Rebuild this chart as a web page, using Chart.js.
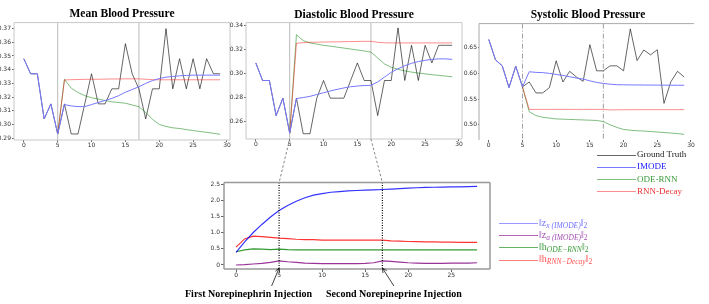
<!DOCTYPE html>
<html>
<head>
<meta charset="utf-8">
<script src="https://cdn.jsdelivr.net/npm/chart.js@4.4.1/dist/chart.umd.min.js"></script>
<style>
    body { margin: 0; width: 709px; height: 304px; background: #fff; position: relative; overflow: hidden; font-family: "Liberation Serif", "Times New Roman", serif; }
    canvas { position: absolute; }
    .title { position: absolute; font-weight: bold; font-size: 11.5px; line-height: 14px; white-space: nowrap; transform: translateX(-50%); }
    .note { position: absolute; font-weight: bold; font-size: 10px; line-height: 12px; white-space: nowrap; }
    .leg-line { position: absolute; height: 1px; width: 39px; }
    .leg-text { position: absolute; font-size: 9px; line-height: 10px; white-space: nowrap; }
    .leg-text.norm { font-size: 10px; }
    .leg-text sub { font-size: 7.5px; vertical-align: -2px; }
    .leg-text i { font-style: italic; }
</style>
</head>
<body>
<canvas id="meanChart"></canvas>
<canvas id="diastolicChart"></canvas>
<canvas id="systolicChart"></canvas>
<canvas id="latentChart"></canvas>
<canvas id="overlay" width="709" height="304" style="left:0;top:0;pointer-events:none;"></canvas>

<div class="title" style="left:122px;top:5.5px;">Mean Blood Pressure</div>
<div class="title" style="left:354px;top:6.5px;">Diastolic Blood Pressure</div>
<div class="title" style="left:588px;top:7px;">Systolic Blood Pressure</div>
<div class="note" style="left:185px;top:288px;">First Norepinephrin Injection</div>
<div class="note" style="left:326px;top:288px;">Second Norepineprine Injection</div>

<script>
const steps = [0, 1, 2, 3, 4, 5, 6, 7, 8, 9, 10, 11, 12, 13, 14, 15, 16, 17, 18, 19, 20, 21, 22, 23, 24, 25, 26, 27, 28, 29];
const latentSteps = [0, 1, 2, 3, 4, 5, 6, 7, 8, 9, 10, 11, 12, 13, 14, 15, 16, 17, 18, 19, 20, 21, 22, 23, 24, 25, 26, 27, 28];
const injections = [5, 17];

const xTicks = [0, 5, 10, 15, 20, 25, 30];
const latentXTicks = [0, 5, 10, 15, 20, 25];
const meanTicks = [0.29, 0.30, 0.31, 0.32, 0.33, 0.34, 0.35, 0.36, 0.37];
const diastolicTicks = [0.26, 0.28, 0.30, 0.32, 0.34];
const systolicTicks = [0.50, 0.55, 0.60, 0.65];
const latentYTicks = [0.0, 0.5, 1.0, 1.5, 2.0, 2.5];

// Mean blood pressure
const meanTruth = [0.348, 0.337, 0.337, 0.304, 0.315, 0.293, 0.315, 0.293, 0.293, 0.315, 0.337, 0.315, 0.315, 0.326, 0.326, 0.359, 0.337, 0.326, 0.304, 0.326, 0.326, 0.370, 0.326, 0.348, 0.326, 0.348, 0.326, 0.348, 0.337, 0.337];
const meanImode = [0.348, 0.337, 0.337, 0.304, 0.315, 0.293, 0.3145, 0.3135, 0.313, 0.313, 0.3145, 0.316, 0.3175, 0.319, 0.321, 0.3235, 0.3255, 0.3275, 0.330, 0.332, 0.3335, 0.3345, 0.335, 0.3355, 0.3358, 0.336, 0.336, 0.336, 0.336, 0.336];
const meanOdeRnn = [null, null, null, null, null, 0.293, 0.333, 0.3265, 0.3233, 0.321, 0.3195, 0.3185, 0.3175, 0.3165, 0.316, 0.3155, 0.3142, 0.313, 0.3087, 0.3037, 0.300, 0.2985, 0.2975, 0.297, 0.2962, 0.2955, 0.2948, 0.2942, 0.2935, 0.2928];
const meanRnnDecay = [null, null, null, null, null, 0.293, 0.3325, 0.3327, 0.3328, 0.3329, 0.333, 0.333, 0.3331, 0.3332, 0.3332, 0.3333, 0.3333, 0.3333, 0.333, 0.3327, 0.3326, 0.3326, 0.3326, 0.3326, 0.3326, 0.3326, 0.3326, 0.3326, 0.3326, 0.3326];

// Diastolic blood pressure
const diaTruth = [0.3088, 0.2942, 0.2942, 0.265, 0.2795, 0.2504, 0.2795, 0.2499, 0.2499, 0.2795, 0.2942, 0.2795, 0.2795, 0.2795, 0.2942, 0.3088, 0.2942, 0.2942, 0.265, 0.2942, 0.2942, 0.338, 0.2942, 0.3235, 0.2942, 0.3235, 0.3088, 0.3235, 0.3235, 0.3235];
const diaImode = [0.3088, 0.2942, 0.2942, 0.265, 0.2795, 0.2504, 0.2792, 0.280, 0.281, 0.2825, 0.284, 0.2855, 0.2868, 0.288, 0.289, 0.2896, 0.290, 0.2902, 0.293, 0.297, 0.301, 0.304, 0.3065, 0.3085, 0.310, 0.311, 0.3118, 0.3122, 0.3122, 0.3118];
const diaOdeRnn = [null, null, null, null, null, 0.2504, 0.3323, 0.3274, 0.3255, 0.3245, 0.3235, 0.3228, 0.322, 0.3212, 0.3204, 0.3196, 0.3188, 0.3178, 0.313, 0.308, 0.3052, 0.3035, 0.3022, 0.3012, 0.3004, 0.2997, 0.299, 0.2985, 0.2979, 0.2973];
const diaRnnDecay = [null, null, null, null, null, 0.2504, 0.3252, 0.3257, 0.326, 0.3261, 0.3262, 0.3263, 0.3264, 0.3265, 0.3266, 0.3267, 0.3268, 0.3268, 0.326, 0.3256, 0.3255, 0.3255, 0.3255, 0.3255, 0.3255, 0.3255, 0.3255, 0.3255, 0.3255, 0.3255];

// Systolic blood pressure
const sysTruth = [0.666, 0.6263, 0.6147, 0.5724, 0.6141, 0.5737, 0.5833, 0.562, 0.562, 0.5724, 0.6244, 0.5833, 0.604, 0.593, 0.5846, 0.6558, 0.605, 0.605, 0.6147, 0.6147, 0.605, 0.6865, 0.625, 0.6455, 0.636, 0.646, 0.5417, 0.5833, 0.604, 0.593];
const sysImode = [0.666, 0.6263, 0.6147, 0.5724, 0.6141, 0.5737, 0.6032, 0.602, 0.6015, 0.600, 0.598, 0.596, 0.5935, 0.591, 0.589, 0.5855, 0.5825, 0.5805, 0.579, 0.578, 0.5778, 0.5776, 0.5775, 0.5774, 0.5773, 0.5772, 0.5771, 0.577, 0.577, 0.577];
const sysOdeRnn = [null, null, null, null, null, 0.5737, 0.5256, 0.518, 0.5147, 0.513, 0.5115, 0.511, 0.5105, 0.510, 0.5095, 0.509, 0.5085, 0.5064, 0.500, 0.495, 0.491, 0.4895, 0.4885, 0.488, 0.487, 0.486, 0.485, 0.484, 0.483, 0.4815];
const sysRnnDecay = [null, null, null, null, null, 0.5737, 0.530, 0.530, 0.530, 0.530, 0.530, 0.530, 0.530, 0.530, 0.530, 0.530, 0.530, 0.530, 0.529, 0.5292, 0.5293, 0.5294, 0.5295, 0.5295, 0.5295, 0.5295, 0.5295, 0.5295, 0.5295, 0.5295];

// Latent state norms
const zxNorm = [0.39, 0.72, 1.01, 1.26, 1.49, 1.69, 1.85, 1.98, 2.09, 2.17, 2.22, 2.26, 2.28, 2.30, 2.315, 2.325, 2.335, 2.345, 2.36, 2.375, 2.39, 2.40, 2.41, 2.415, 2.42, 2.425, 2.43, 2.435, 2.44];
const zaNorm = [0.0, 0.01, 0.03, 0.05, 0.08, 0.13, 0.10, 0.08, 0.06, 0.05, 0.04, 0.04, 0.04, 0.04, 0.04, 0.05, 0.07, 0.13, 0.11, 0.09, 0.07, 0.06, 0.05, 0.05, 0.05, 0.06, 0.06, 0.06, 0.07];
const hOdeNorm = [0.41, 0.47, 0.50, 0.49, 0.48, 0.49, 0.475, 0.47, 0.47, 0.47, 0.47, 0.47, 0.47, 0.47, 0.47, 0.47, 0.47, 0.47, 0.47, 0.47, 0.47, 0.47, 0.47, 0.47, 0.47, 0.47, 0.47, 0.47, 0.47];
const hDecayNorm = [0.556, 0.81, 0.895, 0.88, 0.86, 0.835, 0.82, 0.80, 0.79, 0.785, 0.775, 0.77, 0.77, 0.77, 0.77, 0.77, 0.77, 0.77, 0.75, 0.74, 0.73, 0.725, 0.72, 0.715, 0.71, 0.71, 0.705, 0.70, 0.70];

const TRUTH = 'rgba(0, 0, 0, 0.6)';
const BLUE = '#7777ff';   // opaque so it hides the ground truth where they coincide
const GREEN = 'rgba(0, 128, 0, 0.5)';
const RED = 'rgba(255, 0, 0, 0.45)';

// axis box sizes used to place every canvas so the plot area lands where it should
const PAD = 4, YW = 24, XH = 14;

function frame(color, width, sides) {
    return {
        id: 'frame',
        afterDatasetsDraw(chart) {
            const ctx = chart.ctx;
            const a = chart.chartArea;
            ctx.save();
            ctx.strokeStyle = color;
            ctx.lineWidth = width;
            ctx.beginPath();
            if (sides.includes('top')) { ctx.moveTo(a.left, a.top); ctx.lineTo(a.right, a.top); }
            if (sides.includes('right')) { ctx.moveTo(a.right, a.top); ctx.lineTo(a.right, a.bottom); }
            if (sides.includes('bottom')) { ctx.moveTo(a.left, a.bottom); ctx.lineTo(a.right, a.bottom); }
            if (sides.includes('left')) { ctx.moveTo(a.left, a.top); ctx.lineTo(a.left, a.bottom); }
            ctx.stroke();
            ctx.restore();
        }
    };
}

function injectionLines(color, width, dash, onTop) {
    const draw = chart => {
        const ctx = chart.ctx;
        const a = chart.chartArea;
        ctx.save();
        ctx.strokeStyle = color;
        ctx.lineWidth = width;
        ctx.setLineDash(dash);
        injections.forEach(v => {
            const px = chart.scales.x.getPixelForValue(v);
            ctx.beginPath();
            ctx.moveTo(px, a.top);
            ctx.lineTo(px, a.bottom);
            ctx.stroke();
        });
        ctx.restore();
    };
    return onTop ? { id: 'injections', afterDatasetsDraw: draw } : { id: 'injections', beforeDatasetsDraw: draw };
}

function series(xs, values, color, width) {
    return {
        data: xs.map((x, i) => ({ x: x, y: values[i] })),
        borderColor: color,
        borderWidth: width,
        pointRadius: 0,
        fill: false,
        tension: 0,
        spanGaps: false
    };
}

function axis(min, max, ticks, tickLength, padding) {
    return {
        type: 'linear',
        min: min,
        max: max,
        afterBuildTicks: s => { s.ticks = ticks.map(v => ({ value: v })); },
        afterFit: s => { if (s.isHorizontal()) { s.height = XH; } else { s.width = YW; } },
        grid: { display: true, drawOnChartArea: false, drawTicks: true, tickLength: tickLength, color: '#666' },
        border: { display: false },
        ticks: { padding: padding, autoSkip: false, maxRotation: 0, color: '#333', font: { family: 'DejaVu Sans', size: 6 } }
    };
}

function makeChart(id, rect, datasets, xAxis, yAxis, plugins) {
    const canvas = document.getElementById(id);
    canvas.width = rect.w + 2 * PAD + YW;
    canvas.height = rect.h + 2 * PAD + XH;
    canvas.style.left = (rect.x - PAD - YW) + 'px';
    canvas.style.top = (rect.y - PAD) + 'px';
    return new Chart(canvas, {
        type: 'line',
        data: { datasets: datasets },
        options: {
            responsive: false,
            animation: false,
            events: [],
            layout: { padding: PAD },
            plugins: { legend: { display: false }, tooltip: { enabled: false } },
            scales: { x: xAxis, y: yAxis }
        },
        plugins: plugins
    });
}

const meanChart = makeChart('meanChart', { x: 14, y: 22, w: 216, h: 118 }, [
    series(steps, meanImode, BLUE, 1),
    series(steps, meanRnnDecay, RED, 1),
    series(steps, meanOdeRnn, GREEN, 1),
    series(steps, meanTruth, TRUTH, 1)
], axis(-1.45, 30.45, xTicks, 2, 0), axis(0.2886, 0.3744, meanTicks, 2, 1),
    [injectionLines('#bbbbbb', 1, [], false), frame('#c8c8c8', 1, ['top', 'right', 'bottom', 'left'])]);

const diastolicChart = makeChart('diastolicChart', { x: 246, y: 22, w: 216, h: 117 }, [
    series(steps, diaImode, BLUE, 1),
    series(steps, diaRnnDecay, RED, 1),
    series(steps, diaOdeRnn, GREEN, 1),
    series(steps, diaTruth, TRUTH, 1)
], axis(-1.45, 30.45, xTicks, 2, 0), axis(0.2455, 0.3424, diastolicTicks, 2, 1),
    [injectionLines('#bbbbbb', 1, [], false), frame('#c8c8c8', 1, ['top', 'right', 'bottom', 'left'])]);

const systolicChart = makeChart('systolicChart', { x: 479, y: 23, w: 215, h: 117 }, [
    series(steps, sysImode, BLUE, 1),
    series(steps, sysRnnDecay, RED, 1),
    series(steps, sysOdeRnn, GREEN, 1),
    series(steps, sysTruth, TRUTH, 1)
], axis(-1.45, 30.45, xTicks, 2, 0), axis(0.4705, 0.6968, systolicTicks, 1, 1),
    [injectionLines('#888888', 0.8, [5, 2, 1, 2], false), frame('#aaaaaa', 1, ['top', 'left'])]);

const latentChart = makeChart('latentChart', { x: 224, y: 182, w: 266, h: 87 }, [
    series(latentSteps, zxNorm, 'rgba(0, 0, 255, 0.8)', 1.2),
    series(latentSteps, hDecayNorm, 'rgba(255, 0, 0, 0.8)', 1.2),
    series(latentSteps, hOdeNorm, 'rgba(0, 128, 0, 0.8)', 1.2),
    series(latentSteps, zaNorm, 'rgba(128, 0, 128, 0.8)', 1.2)
], axis(-1.4, 29.5, latentXTicks, 3, 0), axis(-0.125, 2.56, latentYTicks, 3, 1),
    [injectionLines('#000000', 1.2, [1, 1.5], true), frame('#999999', 1.5, ['top', 'right', 'bottom', 'left'])]);

// dashed connectors from the diastolic panel down to the latent panel, plus the two arrows
function drawOverlay() {
    const ctx = document.getElementById('overlay').getContext('2d');
    const offset = chart => ({ x: parseFloat(chart.canvas.style.left), y: parseFloat(chart.canvas.style.top) });
    const up = offset(diastolicChart);
    const low = offset(latentChart);
    const tails = [-7.5, 11.5];

    injections.forEach((v, i) => {
        const x1 = up.x + diastolicChart.scales.x.getPixelForValue(v);
        const y1 = up.y + diastolicChart.chartArea.bottom;
        const x2 = low.x + latentChart.scales.x.getPixelForValue(v);
        const y2 = low.y + latentChart.chartArea.top;

        ctx.save();
        ctx.strokeStyle = '#777';
        ctx.lineWidth = 0.9;
        ctx.setLineDash([2.5, 2]);
        ctx.beginPath();
        ctx.moveTo(x1, y1);
        ctx.lineTo(x2, y2);
        ctx.stroke();
        ctx.restore();

        const tipY = low.y + latentChart.chartArea.bottom - 1;
        const tailX = x2 + tails[i];
        const tailY = 286;
        const ang = Math.atan2(tipY - tailY, x2 - tailX);
        ctx.save();
        ctx.strokeStyle = '#111';
        ctx.lineWidth = 0.8;
        ctx.beginPath();
        ctx.moveTo(tailX, tailY);
        ctx.lineTo(x2, tipY);
        ctx.moveTo(x2 - 5 * Math.cos(ang - 0.45), tipY - 5 * Math.sin(ang - 0.45));
        ctx.lineTo(x2, tipY);
        ctx.lineTo(x2 - 5 * Math.cos(ang + 0.45), tipY - 5 * Math.sin(ang + 0.45));
        ctx.stroke();
        ctx.restore();
    });
}
drawOverlay();

// legends
const topLegend = [
    { html: 'Ground Truth', line: TRUTH, text: '#222' },
    { html: 'IMODE', line: BLUE, text: '#2020ff' },
    { html: 'ODE-RNN', line: GREEN, text: '#3a9a3a' },
    { html: 'RNN-Decay', line: RED, text: '#e83030' }
];
const latentLegend = [
    { html: '&#8214;z<sub><i>x</i> <i>(IMODE)</i></sub>&#8214;<sub>2</sub>', line: 'rgba(0, 0, 255, 0.4)', text: '#7070ff' },
    { html: '&#8214;z<sub><i>a</i> <i>(IMODE)</i></sub>&#8214;<sub>2</sub>', line: 'rgba(128, 0, 128, 0.6)', text: '#a050b0' },
    { html: '&#8214;h<sub><i>ODE&#8722;RNN</i></sub>&#8214;<sub>2</sub>', line: 'rgba(0, 128, 0, 0.6)', text: '#3a9a3a' },
    { html: '&#8214;h<sub><i>RNN&#8722;Decay</i></sub>&#8214;<sub>2</sub>', line: 'rgba(255, 0, 0, 0.5)', text: '#ff5050' }
];

function buildLegend(items, x, y, gap, extraClass) {
    items.forEach((item, i) => {
        const rowY = y + i * gap;
        const line = document.createElement('div');
        line.className = 'leg-line';
        line.style.left = x + 'px';
        line.style.top = (rowY - 0.5) + 'px';
        line.style.background = item.line;
        document.body.appendChild(line);

        const text = document.createElement('div');
        text.className = 'leg-text ' + extraClass;
        text.style.left = (x + 40) + 'px';
        text.style.top = (rowY - 6) + 'px';
        text.style.color = item.text;
        text.innerHTML = item.html;
        document.body.appendChild(text);
    });
}

buildLegend(topLegend, 597, 155, 12.3, '');
buildLegend(latentLegend, 499, 223.5, 12.2, 'norm');
</script>
</body>
</html>
